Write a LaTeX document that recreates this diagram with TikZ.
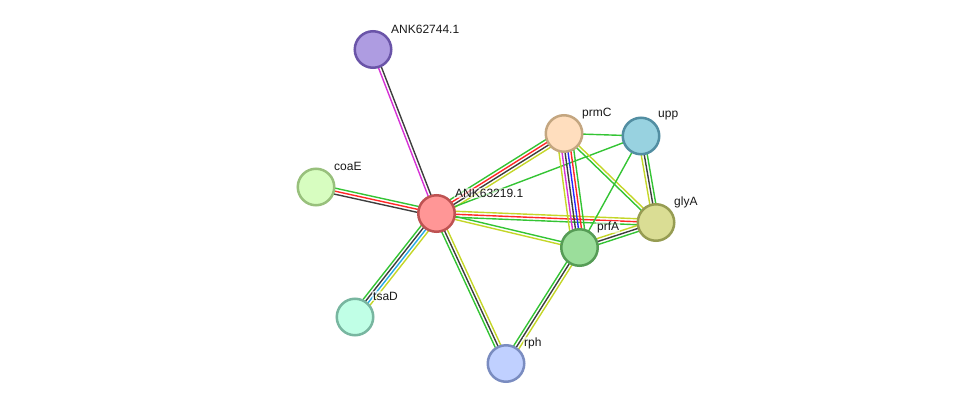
\documentclass[tikz,border=0pt]{standalone}
\usepackage{fontspec}
\setmainfont{Liberation Sans}
\usetikzlibrary{calc}
\pgfdeclarelayer{bg}
\pgfsetlayers{bg,main}
\definecolor{sgreen}{RGB}{52,196,52}
\definecolor{syellow}{RGB}{196,214,40}
\definecolor{sdark}{RGB}{62,62,62}
\definecolor{sred}{RGB}{255,40,40}
\definecolor{smag}{RGB}{214,50,214}
\definecolor{sblue}{RGB}{40,40,255}
\definecolor{scyan}{RGB}{40,170,230}
\tikzset{
  protein/.style={circle, minimum size=36.5pt, inner sep=0pt, line width=2.5pt},
  plabel/.style={anchor=west, inner sep=0.8pt, fill=white, fill opacity=0.6, text opacity=1, font=\fontsize{12}{14}\selectfont, text=black!90},
  edgeline/.style={line width=1.4pt}
}
\newcommand\slink[4]{%
  \foreach \c [count=\i] in {#4} {%
    \pgfmathsetmacro\off{((#3+1)/2-\i)*3}%
    \draw[edgeline, color=\c] ($(#1.center)!\off pt!90:(#2.center)$) -- ($(#2.center)!\off pt!-90:(#1.center)$);
  }%
}
\begin{document}
\begin{tikzpicture}[x=1pt,y=-1pt]
\useasboundingbox (0,0) rectangle (976,409);
% nodes
\node[protein, fill={rgb,255:red,174;green,156;blue,225}, draw={rgb,255:red,106;green,84;blue,168}] (n62744) at (373,49.5) {};
\node[protein, fill={rgb,255:red,215;green,253;blue,192}, draw={rgb,255:red,152;green,192;blue,124}] (coaE) at (316,187) {};
\node[protein, fill={rgb,255:red,255;green,150;blue,150}, draw={rgb,255:red,190;green,82;blue,82}] (n63219) at (436.5,213.5) {};
\node[protein, fill={rgb,255:red,192;green,255;blue,230}, draw={rgb,255:red,120;green,182;blue,160}] (tsaD) at (355,317) {};
\node[protein, fill={rgb,255:red,192;green,208;blue,255}, draw={rgb,255:red,122;green,140;blue,192}] (rph) at (506,363.5) {};
\node[protein, fill={rgb,255:red,255;green,222;blue,190}, draw={rgb,255:red,196;green,166;blue,128}] (prmC) at (564,133.5) {};
\node[protein, fill={rgb,255:red,152;green,210;blue,224}, draw={rgb,255:red,82;green,142;blue,162}] (upp) at (641,136) {};
\node[protein, fill={rgb,255:red,218;green,221;blue,148}, draw={rgb,255:red,150;green,156;blue,82}] (glyA) at (656,222.5) {};
\node[protein, fill={rgb,255:red,155;green,222;blue,155}, draw={rgb,255:red,86;green,156;blue,86}] (prfA) at (579.5,247.5) {};
% labels
\node[plabel] (l62744) at (390.2,29) {ANK62744.1};
\node[plabel] (lcoaE) at (333.2,166) {coaE};
\node[plabel] (l63219) at (454.2,193) {ANK63219.1};
\node[plabel] (ltsaD) at (372.2,296) {tsaD};
\node[plabel] (lrph) at (523.2,343.5) {rph};
\node[plabel] (lprmC) at (581.2,113.5) {prmC};
\node[plabel] (lupp) at (657.2,116) {upp};
\node[plabel] (lglyA) at (673.2,202) {glyA};
\node[plabel] (lprfA) at (596.2,227) {prfA};
% edges
\begin{pgfonlayer}{bg}
\slink{n63219}{n62744}{2}{smag,sdark}
\slink{coaE}{n63219}{3}{sgreen,sred,sdark}
\slink{tsaD}{n63219}{4}{sgreen,sdark,scyan,syellow}
\slink{n63219}{rph}{3}{syellow,sdark,sgreen}
\slink{n63219}{prmC}{4}{sgreen,sred,sdark,syellow}
\slink{n63219}{upp}{1}{sgreen}
\slink{n63219}{glyA}{3}{syellow,sred,sgreen}
\slink{n63219}{prfA}{2}{sgreen,syellow}
\slink{prmC}{prfA}{6}{sgreen,sred,sblue,sdark,smag,syellow}
\slink{prmC}{upp}{1}{sgreen}
\slink{prmC}{glyA}{2}{syellow,sgreen}
\slink{upp}{glyA}{3}{sgreen,sdark,syellow}
\slink{upp}{prfA}{1}{sgreen}
\slink{prfA}{glyA}{3}{syellow,sdark,sgreen}
\slink{rph}{prfA}{3}{sgreen,sdark,syellow}
\end{pgfonlayer}
\end{tikzpicture}
\end{document}
